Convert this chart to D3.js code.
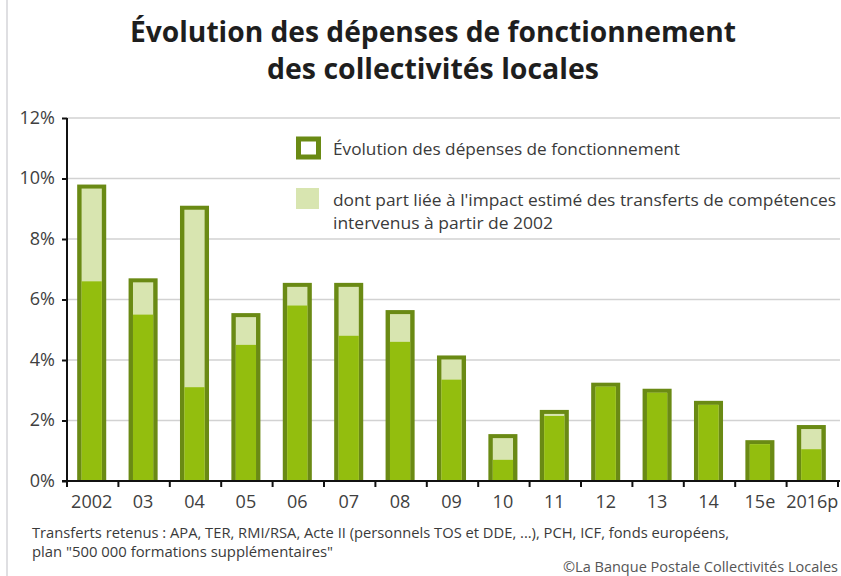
<!DOCTYPE html>
<html><head><meta charset="utf-8">
<script src="https://cdn.jsdelivr.net/npm/d3@7"></script>
<style>
html,body{margin:0;padding:0;background:#fff;}
svg{display:block;}
text{font-family:"Open Sans","Noto Sans",sans-serif;}
</style></head>
<body><div id="chart"></div>
<script>
const categories = ["2002","03","04","05","06","07","08","09","10","11","12","13","14","15e","2016p"];
// total growth of operating expenditure (%)
const totalGrowth = [9.8, 6.7, 9.1, 5.55, 6.55, 6.55, 5.65, 4.15, 1.55, 2.35, 3.25, 3.05, 2.65, 1.35, 1.85];
// growth excluding the estimated impact of competence transfers (%)
const growthExclTransfers = [6.6, 5.5, 3.1, 4.5, 5.8, 4.8, 4.6, 3.35, 0.7, 2.15, 3.25, 3.05, 2.65, 1.35, 1.05];
const yTicks = [0, 2, 4, 6, 8, 10, 12];
const titleLines = ["Évolution des dépenses de fonctionnement", "des collectivités locales"];
const legendLabels = ["Évolution des dépenses de fonctionnement",
  ["dont part liée à l'impact estimé des transferts de compétences", "intervenus à partir de 2002"]];
const footLines = ["Transferts retenus : APA, TER, RMI/RSA, Acte II (personnels TOS et DDE, ...), PCH, ICF, fonds européens,",
  "plan \"500 000 formations supplémentaires\""];
const source = "©La Banque Postale Collectivités Locales";

const W = 841, H = 576;
const dark = "#6a8a14", bright = "#93be0e", light = "#d8e5b0";
const svg = d3.select("#chart").append("svg").attr("width", W).attr("height", H);

// frame line on the left
svg.append("line").attr("x1", 7).attr("x2", 7).attr("y1", 0).attr("y2", H)
  .attr("stroke", "#d4d4d8").attr("stroke-width", 1.5);

// title
svg.selectAll("text.title").data(titleLines).join("text")
  .attr("class", "title")
  .attr("x", 433).attr("y", (d, i) => 42 + i * 37)
  .attr("text-anchor", "middle")
  .attr("font-size", 28).attr("font-weight", "bold").attr("fill", "#1e1e1e")
  .attr("textLength", (d, i) => i === 0 ? 606 : 332)
  .attr("lengthAdjust", "spacingAndGlyphs")
  .text(d => d);

const x0 = 67, x1 = 838;
const x = d3.scaleBand().domain(categories).range([x0, x1]).padding(0);
const y = d3.scaleLinear().domain([0, 12]).range([481, 118]);

// gridlines
svg.append("g").selectAll("line").data(yTicks.filter(t => t > 0)).join("line")
  .attr("x1", x0).attr("x2", 840)
  .attr("y1", d => y(d)).attr("y2", d => y(d))
  .attr("stroke", "#d2d2d2").attr("stroke-width", 1.6);

// legend
const lg = svg.append("g");
lg.append("rect").attr("x", 298.5).attr("y", 139).attr("width", 20).attr("height", 18)
  .attr("fill", "#fff").attr("stroke", dark).attr("stroke-width", 5);
lg.append("text").attr("x", 333).attr("y", 155).attr("font-size", 16).attr("fill", "#3a3a3a")
  .attr("textLength", 347).attr("lengthAdjust", "spacingAndGlyphs").text(legendLabels[0]);
lg.append("rect").attr("x", 296).attr("y", 188).attr("width", 23).attr("height", 21).attr("fill", light);
lg.append("text").attr("x", 333).attr("y", 206).attr("font-size", 16).attr("fill", "#3a3a3a")
  .attr("textLength", 503).attr("lengthAdjust", "spacingAndGlyphs").text(legendLabels[1][0]);
lg.append("text").attr("x", 333).attr("y", 229).attr("font-size", 16).attr("fill", "#3a3a3a")
  .attr("textLength", 220).attr("lengthAdjust", "spacingAndGlyphs").text(legendLabels[1][1]);

// bars
const bw = x.bandwidth() * 0.565, s = 4.4, st = 4;
const data = categories.map((c, i) => ({c, total: totalGrowth[i], base: growthExclTransfers[i]}));
const bars = svg.append("g").selectAll("g").data(data).join("g")
  .attr("transform", d => `translate(${x(d.c) + (x.bandwidth() - bw) / 2 - 1},0)`);
bars.append("rect").attr("x", 0).attr("width", bw)
  .attr("y", d => y(d.total)).attr("height", d => y(0) - y(d.total)).attr("fill", dark);
bars.append("rect").attr("x", s).attr("width", bw - 2 * s)
  .attr("y", d => y(d.total) + st).attr("height", d => Math.max(0, y(0) - y(d.total) - st))
  .attr("fill", light);
bars.append("rect").attr("x", s).attr("width", bw - 2 * s)
  .attr("y", d => Math.max(y(d.base), y(d.total) + st))
  .attr("height", d => y(0) - Math.max(y(d.base), y(d.total) + st))
  .attr("fill", bright);

// y axis
const yAxis = svg.append("g").attr("transform", `translate(${x0},0)`)
  .call(d3.axisLeft(y).tickValues(yTicks).tickSize(5).tickPadding(7).tickFormat(d => d + "%"));
yAxis.select(".domain").attr("stroke", "#111").attr("stroke-width", 2).attr("d", `M0,${y(12)}V${y(0)}`);
yAxis.selectAll(".tick line").attr("stroke", "#111").attr("stroke-width", 2);
yAxis.selectAll(".tick text").attr("font-size", 18).attr("fill", "#404040")
  .attr("font-family", "\"Open Sans\",sans-serif").attr("dy", "0.28em");

// x axis
const xg = svg.append("g").attr("transform", `translate(0,${y(0)})`);
xg.append("line").attr("x1", x0 - 5).attr("x2", 840).attr("stroke", "#111").attr("stroke-width", 2.2);
const bounds = categories.map(c => x(c)).concat([x1]);
xg.selectAll("line.tk").data(bounds).join("line").attr("class", "tk")
  .attr("x1", d => d).attr("x2", d => d).attr("y1", 0).attr("y2", 6)
  .attr("stroke", "#111").attr("stroke-width", 2);
xg.selectAll("text").data(categories).join("text")
  .attr("x", (d, i) => x(d) + x.bandwidth() / 2 - 1 + (i === categories.length - 1 ? 1 : 0))
  .attr("y", 27).attr("text-anchor", "middle")
  .attr("font-size", 18).attr("fill", "#404040").text(d => d);

// footnotes
svg.selectAll("text.foot").data(footLines).join("text").attr("class", "foot")
  .attr("x", 32).attr("y", (d, i) => 538 + i * 19)
  .attr("font-size", 14).attr("fill", "#3a3a3a")
  .attr("textLength", (d, i) => i === 0 ? 697 : 301).attr("lengthAdjust", "spacingAndGlyphs")
  .text(d => d);
svg.append("text").attr("x", 838).attr("y", 572).attr("text-anchor", "end")
  .attr("font-size", 14).attr("fill", "#555")
  .attr("textLength", 275).attr("lengthAdjust", "spacingAndGlyphs").text(source);
</script></body></html>
